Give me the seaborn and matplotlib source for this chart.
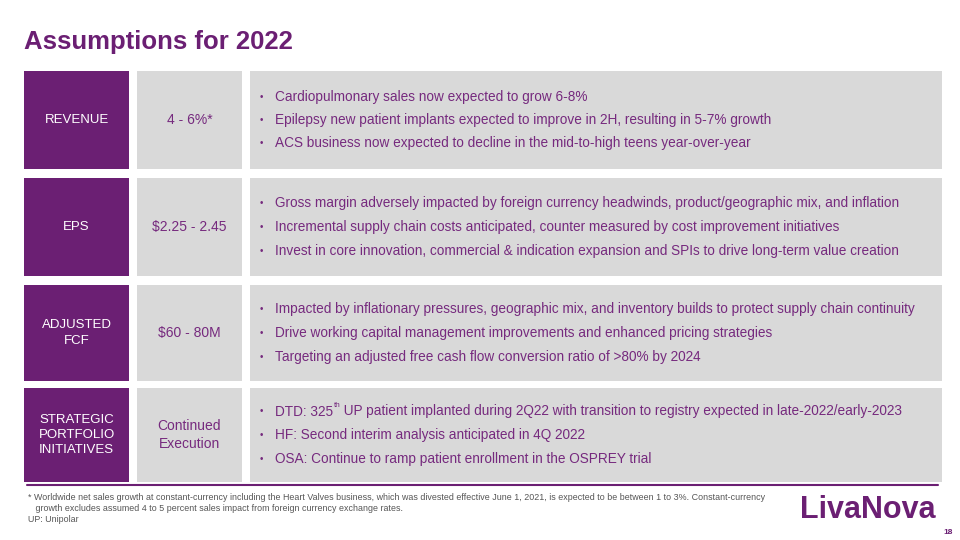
import matplotlib
matplotlib.use('Agg')
import matplotlib.pyplot as plt
from matplotlib.patches import Rectangle
import seaborn as sns

# Slide content
title = "Assumptions for 2022"
categories = ["REVENUE", "EPS", "ADJUSTED\nFCF", "STRATEGIC\nPORTFOLIO\nINITIATIVES"]
guidance = ["4 - 6%*", "$2.25 - 2.45", "$60 - 80M", "Continued\nExecution"]
bullets = [
    ["Cardiopulmonary sales now expected to grow 6-8%",
     "Epilepsy new patient implants expected to improve in 2H, resulting in 5-7% growth",
     "ACS business now expected to decline in the mid-to-high teens year-over-year"],
    ["Gross margin adversely impacted by foreign currency headwinds, product/geographic mix, and inflation",
     "Incremental supply chain costs anticipated, counter measured by cost improvement initiatives",
     "Invest in core innovation, commercial & indication expansion and SPIs to drive long-term value creation"],
    ["Impacted by inflationary pressures, geographic mix, and inventory builds to protect supply chain continuity",
     "Drive working capital management improvements and enhanced pricing strategies",
     "Targeting an adjusted free cash flow conversion ratio of >80% by 2024"],
    [("DTD: 325", "th", " UP patient implanted during 2Q22 with transition to registry expected in late-2022/early-2023"),
     "HF: Second interim analysis anticipated in 4Q 2022",
     "OSA: Continue to ramp patient enrollment in the OSPREY trial"],
]
footnotes = ["* Worldwide net sales growth at constant-currency including the Heart Valves business, which was divested effective June 1, 2021, is expected to be between 1 to 3%. Constant-currency",
             "   growth excludes assumed 4 to 5 percent sales impact from foreign currency exchange rates.",
             "UP: Unipolar"]
page = "18"

sns.set_theme(style="white")
plt.rcParams['font.family'] = ['Liberation Sans', 'DejaVu Sans']

purple = "#6B1F73"
text_purple = "#762A7E"
gray = "#D9D9D9"
fs = 9.8

fig = plt.figure(figsize=(9.6, 5.4), dpi=100)
ax = fig.add_axes([0, 0, 1, 1])
ax.set_xlim(0, 960)
ax.set_ylim(540, 0)
ax.axis("off")
renderer = fig.canvas.get_renderer()

ax.text(24, 42, title, color=purple, fontsize=18.5, fontweight="bold", va="center", ha="left")

row_tops = [71, 178, 285, 388]
row_h = [98, 98, 96, 94]
for i, (cat, g, bl) in enumerate(zip(categories, guidance, bullets)):
    top, h = row_tops[i], row_h[i]
    cy = top + h / 2
    ax.add_patch(Rectangle((24, top), 105, h, color=purple, lw=0))
    ax.add_patch(Rectangle((137, top), 105, h, color=gray, lw=0))
    ax.add_patch(Rectangle((250, top), 692, h, color=gray, lw=0))
    ax.text(76.5, cy, cat, color="white", fontsize=9.5, ha="center", va="center", linespacing=1.35)
    ax.text(189.5, cy, g, color=text_purple, fontsize=10, ha="center", va="center", linespacing=1.3)
    for j, b in enumerate(bl):
        y = cy + (j - 1) * 23.5
        ax.text(260, y, "\u2022", color=text_purple, fontsize=7, ha="left", va="center")
        if isinstance(b, tuple):
            x = 275
            for part, sup in zip(b, [False, True, False]):
                t = ax.text(x + (0.5 if sup else 0), y - (6 if sup else 0), part, color=text_purple,
                            fontsize=fs * 0.6 if sup else fs, ha="left", va="center")
                bb = t.get_window_extent(renderer)
                x += bb.width + (0.5 if sup else 0)
        else:
            ax.text(275, y, b, color=text_purple, fontsize=fs, ha="left", va="center")

ax.plot([27, 938], [485, 485], color=purple, lw=1.5)

for k, line in enumerate(footnotes):
    ax.text(28, 497 + k * 11.5, line, color="#555555", fontsize=6.4, ha="left", va="center")

ax.text(800, 510, "LivaNova", color=purple, fontsize=22, fontweight="bold", ha="left", va="center")
ax.text(953, 532, page, color=purple, fontsize=6, fontweight="bold", ha="right", va="center")

fig.savefig("out.png", dpi=100)
